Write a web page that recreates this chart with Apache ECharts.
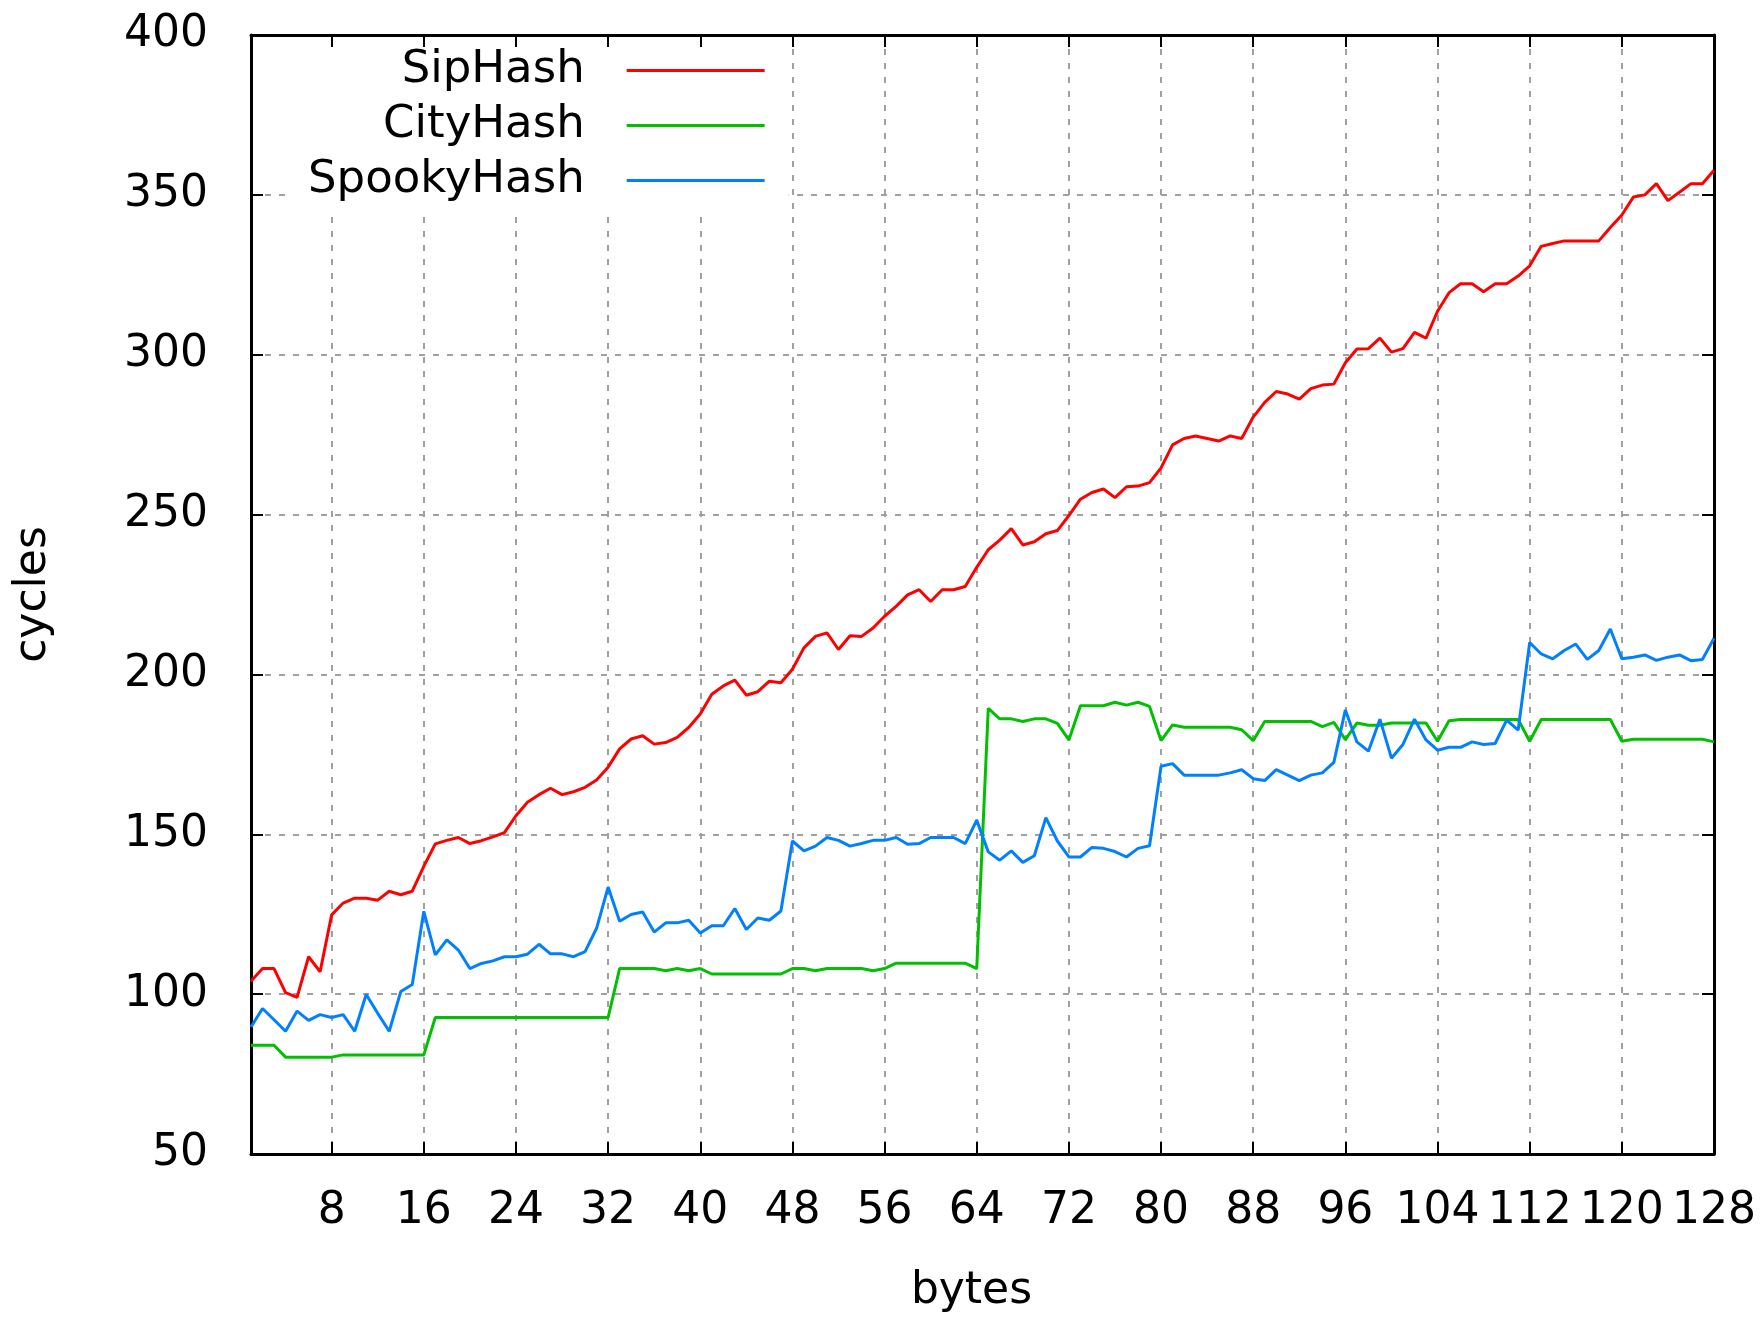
<!DOCTYPE html>
<html>
<head>
<meta charset="utf-8">
<title>SipHash / CityHash / SpookyHash</title>
<script src="https://cdn.jsdelivr.net/npm/echarts@6/dist/echarts.min.js"></script>
<style>
  html, body { margin: 0; padding: 0; background: #fff; }
  #chart { width: 1764px; height: 1319px; }
</style>
</head>
<body>
<div id="chart"></div>
<script>
// input size in bytes
const bytes = [
  1, 2, 3, 4, 5, 6, 7, 8, 9, 10, 11, 12, 13, 14, 15, 16,
  17, 18, 19, 20, 21, 22, 23, 24, 25, 26, 27, 28, 29, 30, 31, 32,
  33, 34, 35, 36, 37, 38, 39, 40, 41, 42, 43, 44, 45, 46, 47, 48,
  49, 50, 51, 52, 53, 54, 55, 56, 57, 58, 59, 60, 61, 62, 63, 64,
  65, 66, 67, 68, 69, 70, 71, 72, 73, 74, 75, 76, 77, 78, 79, 80,
  81, 82, 83, 84, 85, 86, 87, 88, 89, 90, 91, 92, 93, 94, 95, 96,
  97, 98, 99, 100, 101, 102, 103, 104, 105, 106, 107, 108, 109, 110, 111, 112,
  113, 114, 115, 116, 117, 118, 119, 120, 121, 122, 123, 124, 125, 126, 127, 128
];
const xTicks = [8, 16, 24, 32, 40, 48, 56, 64, 72, 80, 88, 96, 104, 112, 120, 128];

// cycles per hash
const sipHash = [
  104, 108, 108, 100.5, 99, 111.7, 107, 124.8, 128.5, 130, 130, 129.4, 132.2, 131.1, 132.2, 140,
  147, 148.1, 149, 147.1, 148, 149.2, 150.5, 155.8, 160, 162.4, 164.4, 162.4, 163.3, 164.7, 167, 171,
  176.7, 179.8, 180.8, 178.2, 178.7, 180.3, 183.4, 187.6, 193.8, 196.4, 198.2, 193.5, 194.6, 197.9, 197.4, 201.6,
  208.3, 211.9, 213, 207.8, 212.1, 211.9, 214.5, 218.2, 221.3, 224.9, 226.5, 222.8, 226.5, 226.5, 227.5, 233.5,
  239, 242, 245.6, 240.5, 241.5, 244, 245, 249.7, 254.8, 256.9, 258, 255.3, 258.7, 258.9, 260, 264.6,
  271.8, 273.8, 274.6, 273.8, 273, 274.6, 273.8, 280.5, 285.1, 288.5, 287.7, 286.1, 289.4, 290.5, 290.8, 297.5,
  301.8, 301.9, 305.2, 300.8, 301.9, 307, 305.2, 313.6, 319.4, 322.2, 322.2, 319.7, 322.2, 322.2, 324.6, 327.8,
  333.9, 334.8, 335.6, 335.6, 335.6, 335.6, 339.8, 343.7, 349.3, 350, 353.5, 348.2, 350.8, 353.5, 353.5, 357.7
];
const cityHash = [
  84, 84, 84, 80.3, 80.3, 80.3, 80.3, 80.3, 81, 81, 81, 81, 81, 81, 81, 81,
  92.7, 92.7, 92.7, 92.7, 92.7, 92.7, 92.7, 92.7, 92.7, 92.7, 92.7, 92.7, 92.7, 92.7, 92.7, 92.7,
  108, 108, 108, 108, 107.3, 108, 107.3, 108, 106.3, 106.3, 106.3, 106.3, 106.3, 106.3, 106.3, 108,
  108, 107.3, 108, 108, 108, 108, 107.3, 108, 109.7, 109.7, 109.7, 109.7, 109.7, 109.7, 109.7, 108,
  189.4, 186.1, 186.1, 185.3, 186.1, 186.1, 184.7, 179.5, 190.2, 190.2, 190.2, 191.3, 190.4, 191.3, 190, 179.3,
  184.2, 183.5, 183.5, 183.5, 183.5, 183.5, 182.7, 179.3, 185.3, 185.3, 185.3, 185.3, 185.3, 183.7, 185, 179.6,
  184.8, 184.1, 184.1, 184.8, 184.8, 184.8, 184.8, 179.1, 185.5, 185.9, 185.9, 185.9, 185.9, 185.9, 185.9, 179.1,
  185.9, 185.9, 185.9, 185.9, 185.9, 185.9, 185.9, 179.1, 179.7, 179.7, 179.7, 179.7, 179.7, 179.7, 179.7, 178.9
];
const spookyHash = [
  89.7, 95.5, 92, 88.4, 94.7, 91.8, 93.6, 92.7, 93.6, 88.4, 99.9, 94, 88.4, 100.8, 103, 125.9,
  112.3, 117, 113.8, 108, 109.6, 110.4, 111.7, 111.7, 112.5, 115.6, 112.6, 112.6, 111.7, 113.3, 120.6, 133.5,
  122.8, 124.9, 125.7, 119.4, 122.3, 122.3, 123.1, 119.1, 121.4, 121.4, 126.8, 120.2, 123.8, 123.1, 126, 147.9,
  144.8, 146.3, 149, 148.1, 146.3, 147.1, 148.1, 148.1, 149, 146.9, 147.1, 149, 149, 149, 147.1, 154.4,
  144.5, 141.9, 144.8, 141.2, 143.3, 155.2, 147.9, 142.9, 142.9, 145.9, 145.6, 144.6, 142.9, 145.6, 146.4, 171.3,
  172.1, 168.5, 168.5, 168.5, 168.5, 169.2, 170.2, 167.4, 166.8, 170.2, 168.5, 166.8, 168.5, 169.2, 172.5, 188.9,
  178.9, 176, 186, 173.8, 178.1, 186, 179.5, 176.3, 177.2, 177.2, 178.9, 178.1, 178.4, 185.7, 182.6, 210,
  206.4, 204.9, 207.5, 209.5, 204.7, 207.5, 214.2, 204.9, 205.4, 206.1, 204.4, 205.4, 206.1, 204.3, 204.7, 211.3
];

const FONT = 'DejaVu Sans';
const pairs = (ys) => bytes.map((b, i) => [b, ys[i]]);

const gridLine = { show: true, lineStyle: { color: '#a0a0a0', width: 2, type: [6, 8] } };
const border = { show: true, onZero: false, lineStyle: { color: '#000', width: 3 } };
const tickX = { show: true, inside: true, length: 12, customValues: xTicks, lineStyle: { color: '#000', width: 2 } };
const tickY = { show: true, inside: true, length: 12, lineStyle: { color: '#000', width: 2 } };
const nameStyle = { fontFamily: FONT, fontSize: 44, color: '#000' };

const chart = echarts.init(document.getElementById('chart'));

chart.setOption({
  animation: false,
  backgroundColor: '#fff',
  textStyle: { fontFamily: FONT },
  grid: { left: 251, right: 50, top: 35, bottom: 159 },
  legend: {
    orient: 'vertical',
    left: 285,
    top: 35,
    align: 'right',
    backgroundColor: '#fff',
    padding: [13, 24, 10, 23],
    icon: 'rect',
    itemWidth: 138,
    itemHeight: 3,
    itemGap: 10,
    textStyle: { fontFamily: FONT, fontSize: 45, lineHeight: 44, color: '#000', padding: [0, 37, 0, 0] },
    data: ['SipHash', 'CityHash', 'SpookyHash']
  },
  xAxis: [
    {
      type: 'value',
      min: 1,
      max: 128,
      position: 'bottom',
      axisLine: border,
      axisTick: tickX,
      axisLabel: { customValues: xTicks, margin: 36, fontSize: 44, color: '#000', fontFamily: FONT },
      splitLine: Object.assign({ customValues: xTicks }, gridLine),
      name: 'bytes',
      nameLocation: 'middle',
      nameGap: 116,
      nameTextStyle: Object.assign({ padding: [0, 22, 0, 0] }, nameStyle)
    },
    {
      type: 'value',
      min: 1,
      max: 128,
      position: 'top',
      z: 10,
      axisLine: border,
      axisTick: tickX,
      axisLabel: { show: false },
      splitLine: { show: false }
    }
  ],
  yAxis: [
    {
      type: 'value',
      min: 50,
      max: 400,
      interval: 50,
      position: 'left',
      axisLine: border,
      axisTick: tickY,
      axisLabel: { margin: 43, fontSize: 44, color: '#000', fontFamily: FONT },
      splitLine: gridLine,
      name: 'cycles',
      nameLocation: 'middle',
      nameRotate: 90,
      nameGap: 195,
      nameTextStyle: nameStyle
    },
    {
      type: 'value',
      min: 50,
      max: 400,
      interval: 50,
      position: 'right',
      axisLine: border,
      axisTick: tickY,
      axisLabel: { show: false },
      splitLine: { show: false }
    }
  ],
  series: [
    {
      name: 'SipHash',
      type: 'line',
      data: pairs(sipHash),
      symbol: 'none',
      itemStyle: { color: '#ff0000' },
      lineStyle: { color: '#ff0000', width: 3 }
    },
    {
      name: 'CityHash',
      type: 'line',
      data: pairs(cityHash),
      symbol: 'none',
      itemStyle: { color: '#00c000' },
      lineStyle: { color: '#00c000', width: 3 }
    },
    {
      name: 'SpookyHash',
      type: 'line',
      data: pairs(spookyHash),
      symbol: 'none',
      itemStyle: { color: '#0080ff' },
      lineStyle: { color: '#0080ff', width: 3 }
    }
  ]
});
</script>
</body>
</html>
